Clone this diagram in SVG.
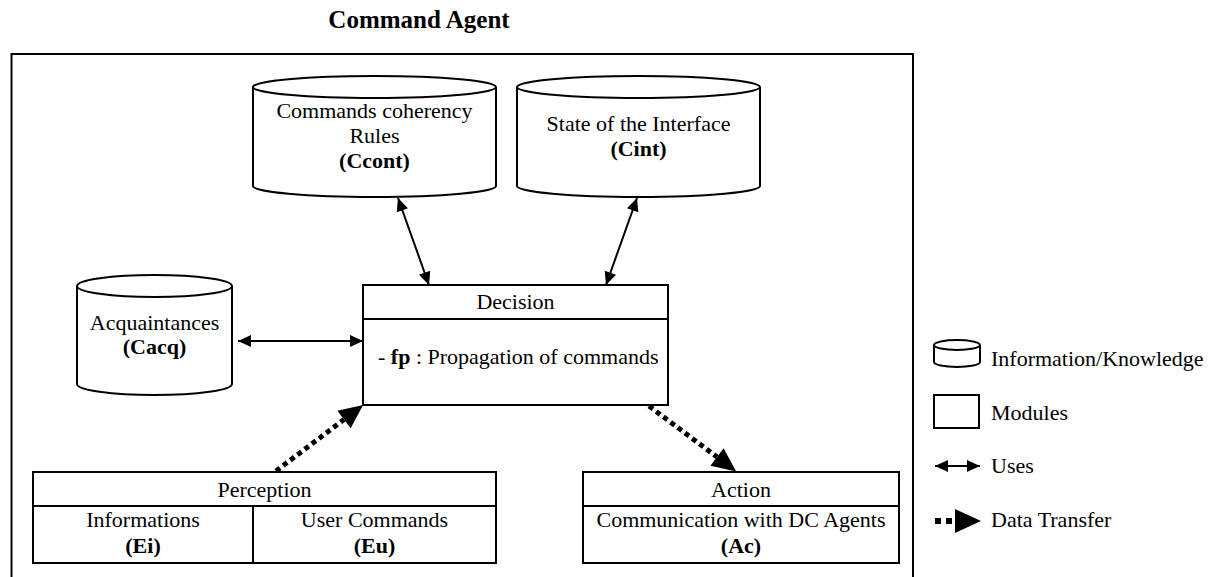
<svg xmlns="http://www.w3.org/2000/svg" width="1213" height="577" viewBox="0 0 1213 577" font-family="'Liberation Serif', 'Times New Roman', serif">
<defs>
<style>
text{font-family:"Liberation Serif","Times New Roman",serif;font-size:22px;fill:#000}
.c{text-anchor:middle}
.b{font-weight:bold}
.shape{fill:#fff;stroke:#000;stroke-width:2}
.ln{fill:none;stroke:#000;stroke-width:2}
.uses{fill:none;stroke:#000;stroke-width:2;marker-start:url(#uh);marker-end:url(#uh)}
.dt{fill:none;stroke:#000;stroke-width:5;stroke-dasharray:5 4;marker-end:url(#dh)}
</style>
<marker id="uh" markerUnits="userSpaceOnUse" markerWidth="14" markerHeight="12" refX="13" refY="6" orient="auto-start-reverse" overflow="visible">
<path d="M0,0 L13,6 L0,12 z" fill="#000"/>
</marker>
<marker id="dh" markerUnits="userSpaceOnUse" markerWidth="24" markerHeight="22" refX="0" refY="11" orient="auto" overflow="visible">
<path d="M0,0 L24,11 L0,22 z" fill="#000"/>
</marker>
</defs>
<rect width="1213" height="577" fill="#fff"/>
<text class="c b" x="419" y="28" style="font-size:25px">Command Agent</text>
<rect x="11.5" y="54" width="901.5" height="600" fill="none" stroke="#000" stroke-width="2"/>

<g id="connectors">
<line class="uses" x1="398" y1="198" x2="429" y2="285"/>
<line class="uses" x1="637" y1="198" x2="606" y2="285"/>
<line class="uses" x1="238" y1="341" x2="363" y2="341"/>
<line class="dt" x1="276" y1="471" x2="344" y2="419.5"/>
<line class="dt" x1="649" y1="406" x2="717" y2="457"/>
</g>

<g id="ccont">
<path class="shape" d="M253,87 L253,186 A121.5,11 0 0 0 496,186 L496,87"/>
<ellipse class="shape" cx="374.5" cy="87" rx="121.5" ry="11"/>
<text class="c" x="374.5" y="118">Commands coherency</text>
<text class="c" x="374.5" y="143">Rules</text>
<text class="c" x="374.5" y="168"><tspan class="b">(Ccont)</tspan></text>
</g>

<g id="cint">
<path class="shape" d="M517,87 L517,186 A121.5,11 0 0 0 760,186 L760,87"/>
<ellipse class="shape" cx="638.5" cy="87" rx="121.5" ry="11"/>
<text class="c" x="638.5" y="131">State of the Interface</text>
<text class="c" x="638.5" y="156"><tspan class="b">(Cint)</tspan></text>
</g>

<g id="cacq">
<path class="shape" d="M77,286 L77,384 A77.5,11 0 0 0 232,384 L232,286"/>
<ellipse class="shape" cx="154.5" cy="286" rx="77.5" ry="11"/>
<text class="c" x="154.5" y="330">Acquaintances</text>
<text class="c" x="154.5" y="354"><tspan class="b">(Cacq)</tspan></text>
</g>

<g id="decision">
<rect class="shape" x="363" y="285" width="305" height="120"/>
<line class="ln" x1="363" y1="319" x2="668" y2="319"/>
<text class="c" x="515.5" y="309">Decision</text>
<text x="378" y="364">- <tspan class="b">fp</tspan> : Propagation of commands</text>
</g>

<g id="perception">
<rect class="shape" x="33" y="472" width="463" height="91"/>
<line class="ln" x1="33" y1="506" x2="496" y2="506"/>
<line class="ln" x1="253" y1="506" x2="253" y2="563"/>
<text class="c" x="264.5" y="497">Perception</text>
<text class="c" x="143" y="527">Informations</text>
<text class="c b" x="143" y="553">(Ei)</text>
<text class="c" x="374.5" y="527">User Commands</text>
<text class="c b" x="374.5" y="553">(Eu)</text>
</g>

<g id="action">
<rect class="shape" x="583" y="472" width="316" height="91"/>
<line class="ln" x1="583" y1="506" x2="899" y2="506"/>
<text class="c" x="741" y="497">Action</text>
<text class="c" x="741" y="527">Communication with DC Agents</text>
<text class="c b" x="741" y="553">(Ac)</text>
</g>

<g id="legend">
<path class="shape" d="M934,345 L934,362 A23,5 0 0 0 980,362 L980,345"/>
<ellipse class="shape" cx="957" cy="345" rx="23" ry="5"/>
<text x="991" y="366">Information/Knowledge</text>
<rect class="shape" x="934" y="395" width="45" height="33"/>
<text x="991" y="420">Modules</text>
<line class="uses" x1="935" y1="466" x2="980" y2="466"/>
<text x="991" y="473">Uses</text>
<rect x="935" y="518" width="6" height="6" fill="#000"/>
<rect x="946" y="518" width="6" height="6" fill="#000"/>
<path d="M955,509 L981,521 L955,533 z" fill="#000"/>
<text x="991" y="527">Data Transfer</text>
</g>
</svg>
